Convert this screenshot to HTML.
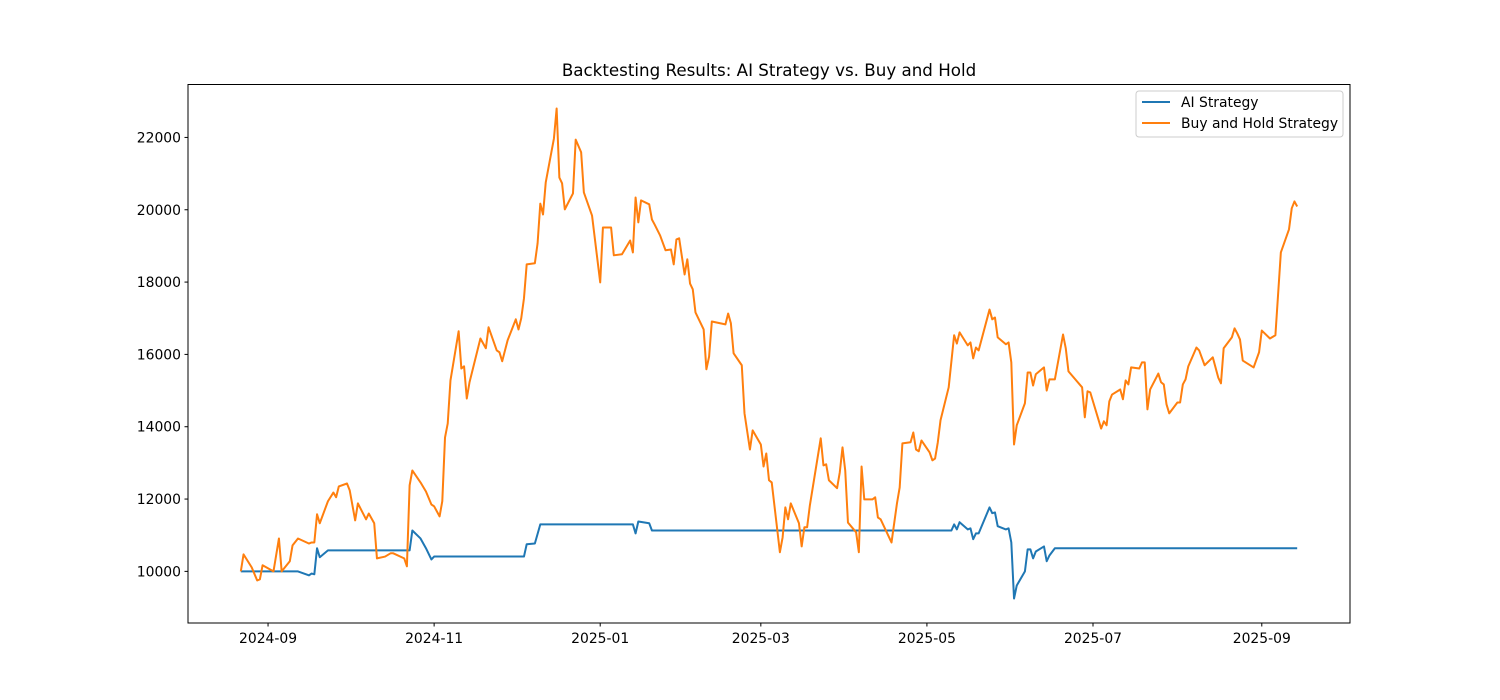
<!DOCTYPE html>
<html><head><meta charset="utf-8"><style>
html,body{margin:0;padding:0;background:#fff;}
svg{display:block;font-family:"DejaVu Sans","Liberation Sans",sans-serif;}
</style></head><body>
<svg id="chart" width="1500" height="700" viewBox="0 0 1500 700">
<rect width="1500" height="700" fill="#fff"/>
<text x="769" y="76" text-anchor="middle" font-size="16.7" fill="#000">Backtesting Results: AI Strategy vs. Buy and Hold</text>
<g id="axes"></g>
<g id="series"></g>
<rect x="188" y="84.5" width="1162" height="538.5" fill="none" stroke="#000" stroke-width="1"/>
<g>
<rect x="1136" y="91" width="207" height="46" rx="3" fill="#fff" fill-opacity="0.8" stroke="#ccc"/>
<g>
<line x1="1142" y1="102" x2="1170" y2="102" stroke="#1f77b4" stroke-width="2"/>
<text x="1181" y="107" font-size="13.9">AI Strategy</text>
</g>
<g>
<line x1="1142" y1="123" x2="1170" y2="123" stroke="#ff7f0e" stroke-width="2"/>
<text x="1181" y="128" font-size="13.9">Buy and Hold Strategy</text>
</g>
</g>
</svg>
<script>
const startDate = "2024-08-22";
const bhDays = [0,1,4,6,7,8,12,14,15,18,19,21,25,26,27,28,29,32,34,35,36,39,40,42,43,46,47,49,50,53,55,56,60,61,62,63,66,68,70,71,73,74,75,76,77,80,81,82,83,84,88,90,91,94,95,96,98,101,102,103,104,105,108,109,110,111,112,115,116,117,118,119,122,123,125,126,129,132,133,136,137,140,143,144,145,146,147,150,151,152,154,156,158,159,160,161,163,164,165,166,167,170,171,172,173,178,179,180,181,184,185,187,188,191,192,193,194,195,198,199,200,201,202,205,206,207,208,209,213,214,215,216,219,220,221,222,223,226,227,228,229,232,233,234,235,239,241,242,243,246,247,248,249,250,253,254,255,256,257,260,262,263,264,267,268,269,270,271,275,276,277,278,281,282,283,284,285,288,289,290,291,292,295,296,297,299,302,303,304,309,310,311,312,316,317,318,319,320,323,324,325,326,327,330,331,332,333,334,337,338,339,340,341,344,345,346,347,348,351,352,354,357,359,360,361,364,365,366,367,368,372,374,375,378,380,382,385,386,387,388];
const bhValues = [10000,10470,10110,9750,9780,10170,10000,10910,10000,10280,10720,10910,10770,10800,10800,11580,11330,11940,12180,12050,12350,12430,12240,11410,11880,11440,11600,11330,10360,10410,10500,10500,10360,10140,12380,12790,12460,12210,11850,11800,11520,11940,13700,14090,15280,16640,15610,15670,14780,15230,16440,16170,16750,16110,16060,15810,16390,16970,16690,17000,17550,18490,18520,19070,20170,19870,20760,21970,22800,20890,20730,20010,20450,21940,21590,20480,19840,17990,19510,19510,18740,18770,19150,18820,20340,19650,20260,20150,19730,19590,19290,18880,18900,18490,19180,19210,18210,18630,17960,17800,17160,16690,15590,15940,16910,16830,17130,16860,16030,15700,14370,13370,13900,13510,12900,13260,12520,12460,10530,10940,11770,11440,11880,11330,10690,11220,11220,11820,13680,12930,12960,12520,12300,12740,13430,12790,11350,11080,10530,12900,11990,11990,12050,11490,11440,10800,11880,12320,13540,13570,13840,13370,13320,13620,13290,13070,13120,13570,14180,15090,16530,16300,16610,16250,16330,15890,16190,16110,17240,16970,17020,16470,16280,16330,15780,13510,14040,14650,15500,15500,15140,15450,15640,15000,15310,15310,16550,16170,15530,15090,14260,14980,14950,13950,14150,14040,14700,14890,15030,14760,15280,15170,15640,15610,15780,15780,14480,15030,15470,15230,15170,14620,14370,14670,14670,15170,15310,15670,16190,16110,15700,15920,15360,15200,16170,16470,16720,16580,16410,15830,15640,16060,16660,16440,16530,18820,19460,20040,20230,20090];
const aiDays = [0,21,25,26,27,28,29,32,62,63,66,68,70,71,104,105,108,110,144,145,146,150,151,261,262,263,264,267,268,269,270,271,275,276,277,278,281,282,283,284,285,288,289,290,291,292,295,296,297,299,388];
const aiValues = [10000,10000,9890,9940,9920,10640,10390,10580,10580,11130,10910,10640,10330,10410,10410,10750,10770,11300,11300,11050,11380,11330,11130,11130,11300,11160,11360,11160,11190,10890,11050,11050,11770,11610,11630,11250,11160,11190,10800,9250,9610,10000,10610,10610,10360,10550,10690,10280,10440,10640,10640];
const yTickValues = [10000,12000,14000,16000,18000,20000,22000];
const xTickLabels = ["2024-09","2024-11","2025-01","2025-03","2025-05","2025-07","2025-09"];

const NS = "http://www.w3.org/2000/svg";
const L = 188, R = 1350, T = 84, B = 623;
const base = Date.UTC(2024,7,22);
const allD = bhDays.concat(aiDays), allV = bhValues.concat(aiValues);
const dMin = Math.min(...allD), dMax = Math.max(...allD);
const vMin = Math.min(...allV), vMax = Math.max(...allV);
const dPad = (dMax-dMin)*0.05, vPad = (vMax-vMin)*0.05;
function xScale(d){ return L + (d-(dMin-dPad))/((dMax+dPad)-(dMin-dPad))*(R-L); }
function yScale(v){ return B - (v-(vMin-vPad))/((vMax+vPad)-(vMin-vPad))*(B-T); }
function mk(tag, attrs){ const e=document.createElementNS(NS,tag); for(const k in attrs) e.setAttribute(k,attrs[k]); return e; }

const axes = document.getElementById('axes');
yTickValues.forEach(v=>{
  const y = yScale(v);
  const t = mk('line',{x1:L-3.5,x2:L,y1:y,y2:y,stroke:'#000'});
  
  
  axes.appendChild(t);
  const lb = mk('text',{x:L-7,y:y+5,'text-anchor':'end','font-size':'13.9'});
  
  
  lb.textContent = v;
  axes.appendChild(lb);
});
xTickLabels.forEach(s=>{
  const [yy,mm] = s.split('-').map(Number);
  const d = (Date.UTC(yy,mm-1,1)-base)/86400000;
  const x = xScale(d);
  const t = mk('line',{x1:x,x2:x,y1:B,y2:B+3.5,stroke:'#000'});
  
  
  axes.appendChild(t);
  const lb = mk('text',{x:x,y:B+20,'text-anchor':'middle','font-size':'13.9'});
  
  
  lb.textContent = s;
  axes.appendChild(lb);
});

const series = document.getElementById('series');
function drawLine(days, vals, color, name){
  const pts = days.map((d,i)=>xScale(d).toFixed(2)+','+yScale(vals[i]).toFixed(2)).join(' ');
  const p = mk('polyline',{points:pts,fill:'none',stroke:color,'stroke-width':'2','stroke-linejoin':'round'});
  
  
  series.appendChild(p);
}
drawLine(aiDays, aiValues, '#1f77b4', 'ai-strategy-line');
drawLine(bhDays, bhValues, '#ff7f0e', 'buy-and-hold-line');
</script>
</body></html>
